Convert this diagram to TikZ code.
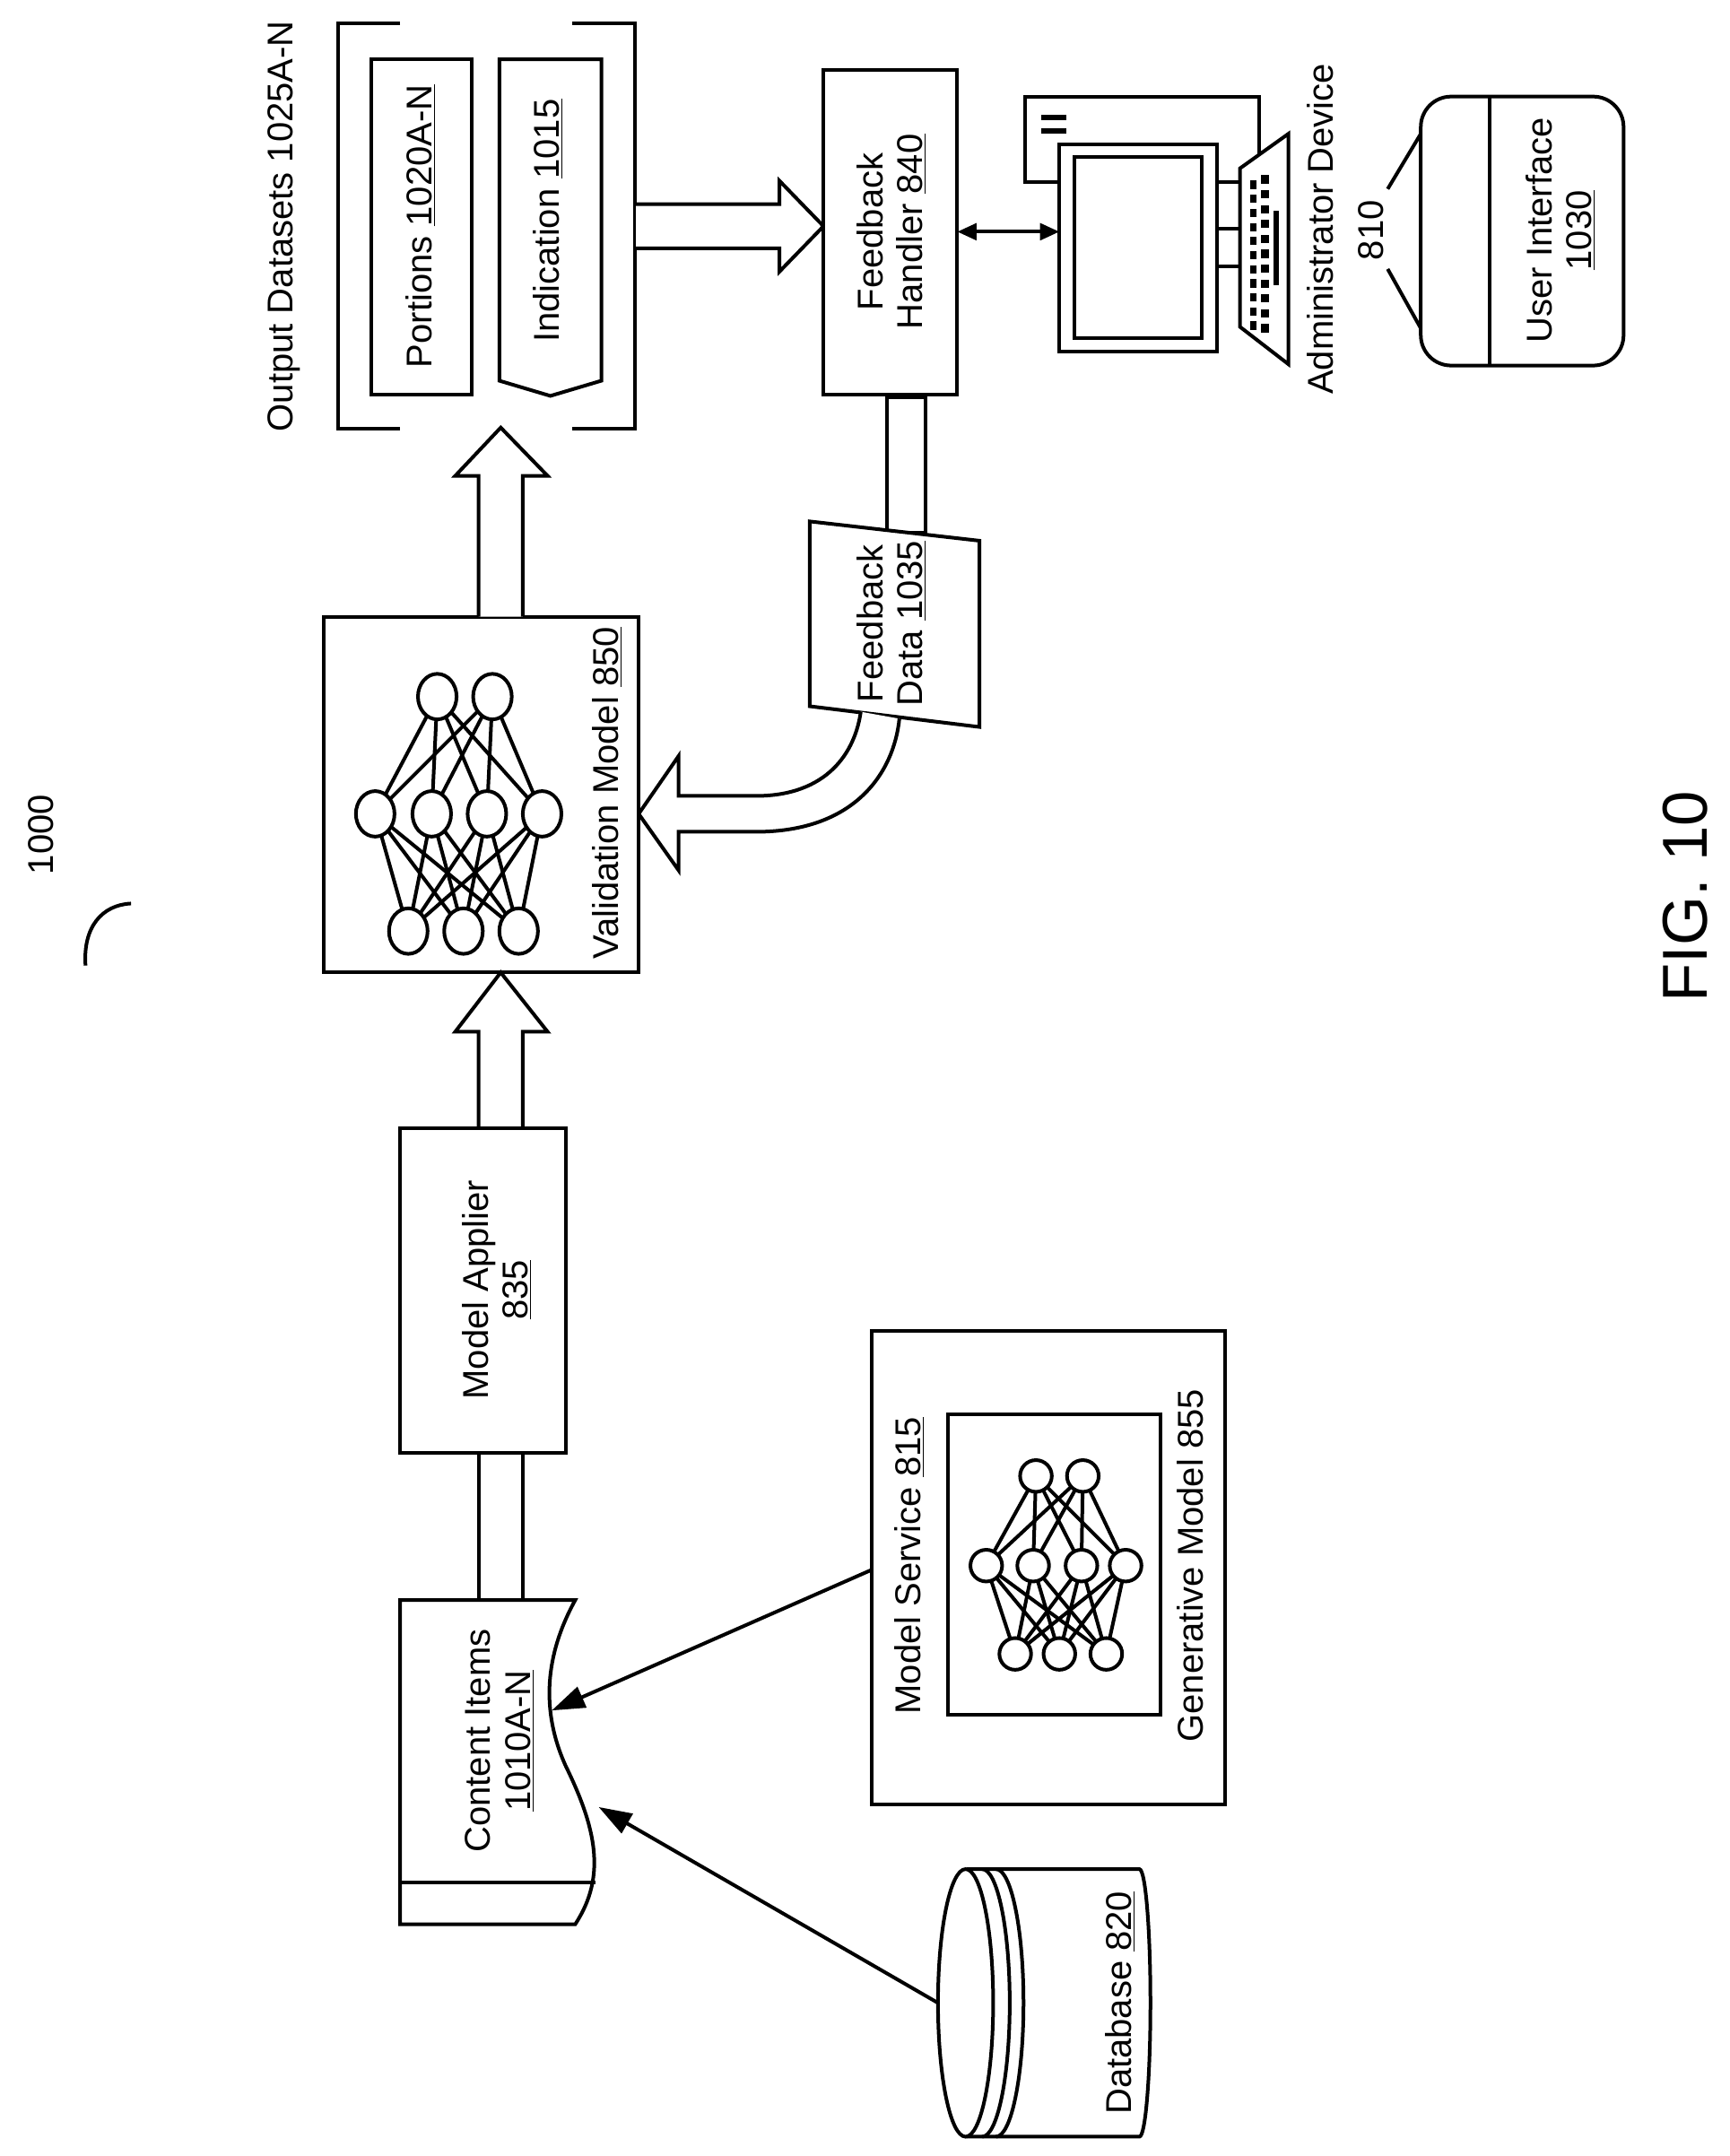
\documentclass[tikz,border=0pt]{standalone}
\usepackage{fontspec}
\setmainfont{Liberation Sans}
\usetikzlibrary{arrows.meta,shapes.geometric}
\begin{document}
\begin{tikzpicture}[x=1pt,y=-1pt,line width=2.6pt,line join=miter,
  lbl/.style={rotate=90,font=\fontsize{26}{29}\selectfont,align=center,inner sep=0},
  box/.style={draw,fill=white},
  hollow/.style={draw,fill=white,line join=miter},
  tip/.style={-{Triangle[length=24pt,width=16pt]}},
  nn/.style={draw,fill=white,ellipse,inner sep=0}]
\useasboundingbox (0,0) rectangle (1254,1563);
% label 1000
\node[lbl] (n1000) at (30,605) {1000};
\coordinate (sq1) at (62,700); \coordinate (sq2) at (95,655);
\draw (sq1) .. controls (60,672) and (74,656) .. (sq2);
% Output datasets
\node[lbl] (outlbl) at (206,164) {Output Datasets 1025A-N};
\draw (290,17) -- (245,17) -- (245,311) -- (290,311);
\draw (415,17) -- (460,17) -- (460,311) -- (415,311);
\draw[box] (269,43) rectangle (342,286);
\node[lbl] (portions) at (305,164) {Portions \underline{1020A-N}};
\draw[box] (362,43) -- (436,43) -- (436,276) -- (399,287) -- (362,276) -- cycle;
\node[lbl] (indic) at (397,160) {Indication \underline{1015}};
% arrow to feedback handler
\draw[hollow] (461,148) -- (565,148) -- (565,131) -- (597,164) -- (565,197) -- (565,180) -- (461,180);
% feedback handler
\draw[box] (597,51) rectangle (694,286);
\node[lbl] (fh) at (646,168) {Feedback\\Handler \underline{840}};
% computer
\draw[box] (743,70) rectangle (913,132);
\fill (755,83) rectangle (773,87);
\fill (755,93) rectangle (773,97);
\draw (882,132) -- (899,132);
\draw (882,166) -- (899,166);
\draw (882,193) -- (899,193);
\draw[box] (768,105) rectangle (882,255);
\draw (779,114) rectangle (871,245);
\draw[box] (899,122) -- (934,97) -- (934,264) -- (899,237) -- cycle;
\foreach \i in {0,...,10}{
  \fill (906,{131+\i*10.2}) rectangle (911,{137+\i*10.2});
  \fill (914,{127+\i*10.8}) rectangle (920,{133+\i*10.8});}
\fill (923,153) rectangle (927,207);
\coordinate (mon) at (768,168);
\coordinate (fhR) at (694,168);
\draw[{Triangle[length=14pt,width=12pt]}-{Triangle[length=14pt,width=12pt]}] (fhR) -- (mon);
\node[lbl] (admin) at (957,166) {Administrator Device};
\node[lbl] (n810) at (994,167) {810};
% user interface
\draw[box,rounded corners=22pt] (1030,70) rectangle (1177,265);
\draw (1080,70) -- (1080,265);
\node[lbl] (ui) at (1131,167) {User Interface\\\underline{1030}};
\draw (1006,137) -- (1030,97);
\draw (1006,195) -- (1030,238);
% feedback data
\draw[hollow] (643,288) rectangle (671,386);
\draw[box] (587,378) -- (710,392) -- (710,527) -- (587,512) -- cycle;
\node[lbl] (fd) at (646,452) {Feedback\\Data \underline{1035}};
\draw[hollow] (624,516) .. controls (620,545) and (600,577) .. (548,577) -- (492,577) -- (492,548) -- (463,590)
  -- (492,631) -- (492,603) -- (548,603) .. controls (620,603) and (648,560) .. (652,521);
% validation model
\draw[box] (235,447) rectangle (463,705);
\node[lbl] (vm) at (440,575) {Validation Model \underline{850}};
\foreach \a in {317,357}{\foreach \b in {272,313,353,393}{\draw (\a,505) -- (\b,590);}}
\foreach \a in {272,313,353,393}{\foreach \b in {296,336,376}{\draw (\a,590) -- (\b,675);}}
\foreach \a in {317,357}{\node[nn,minimum width=28pt,minimum height=33pt] at (\a,505) {};}
\foreach \a in {272,313,353,393}{\node[nn,minimum width=28pt,minimum height=33pt] at (\a,590) {};}
\foreach \a in {296,336,376}{\node[nn,minimum width=28pt,minimum height=33pt] at (\a,675) {};}
\draw[hollow] (347,447) -- (347,345) -- (330,345) -- (363,310) -- (397,345) -- (379,345) -- (379,447);
% model applier
\draw[hollow] (347,818) -- (347,748) -- (330,748) -- (363,705) -- (397,748) -- (379,748) -- (379,818);
\draw[box] (290,818) rectangle (410,1053);
\node[lbl] (ma) at (360,935) {Model Applier\\\underline{835}};
\draw (347,1053) -- (347,1160);
\draw (379,1053) -- (379,1160);
% content items
\draw[box] (290,1160) -- (417,1160) .. controls (395,1200) and (392,1240) .. (410,1280)
  .. controls (432,1325) and (440,1360) .. (417,1395) -- (290,1395) -- cycle;
\draw (290,1365) -- (432,1365);
\node[lbl] (ci) at (362,1262) {Content Items\\\underline{1010A-N}};
\coordinate (ciA) at (400,1240); \coordinate (ciB) at (434,1310);
% model service
\draw[box] (632,965) rectangle (888,1308);
\draw (687,1025) rectangle (841,1243);
\node[lbl] (ms) at (659,1135) {Model Service \underline{815}};
\node[lbl] (gm) at (863,1135) {Generative Model 855};
\foreach \a in {751,785}{\foreach \b in {715,749,784,816}{\draw (\a,1070) -- (\b,1135);}}
\foreach \a in {715,749,784,816}{\foreach \b in {736,768,802}{\draw (\a,1135) -- (\b,1199);}}
\foreach \a in {751,785}{\node[nn,minimum size=23pt] at (\a,1070) {};}
\foreach \a in {715,749,784,816}{\node[nn,minimum size=23pt] at (\a,1135) {};}
\foreach \a in {736,768,802}{\node[nn,minimum size=23pt] at (\a,1199) {};}
\coordinate (msL) at (632,1138);
\draw[tip] (msL) -- (ciA);
% database
\draw[box] (702,1355) -- (826,1355) arc[start angle=-90,end angle=90,x radius=8,y radius=97] -- (702,1549) -- cycle;
\draw[fill=white] (700,1452) ellipse[x radius=20,y radius=97];
\draw (712,1355) arc[start angle=-90,end angle=90,x radius=20,y radius=97];
\draw (722,1355) arc[start angle=-90,end angle=90,x radius=20,y radius=97];
\node[lbl] (db) at (812,1452) {Database \underline{820}};
\coordinate (dbL) at (680,1452);
\draw[tip] (dbL) -- (ciB);
% fig
\node[rotate=90,font=\fontsize{46}{50}\selectfont] (fig) at (1222,650) {FIG. 10};
\end{tikzpicture}
\end{document}
